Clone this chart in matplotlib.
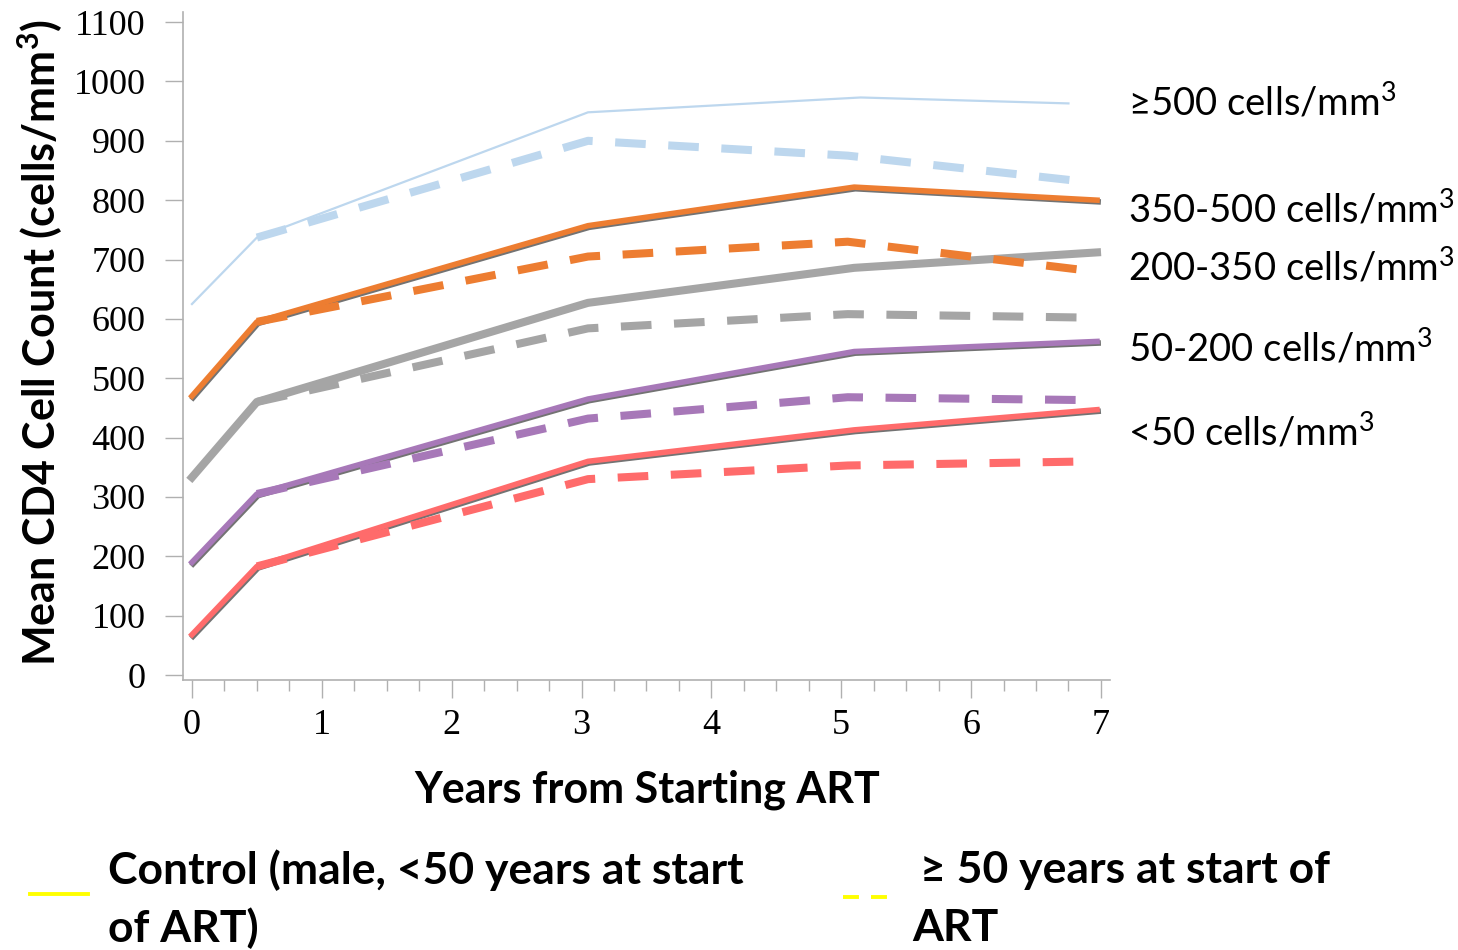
import numpy as np
import matplotlib
matplotlib.use("Agg")
import matplotlib.pyplot as plt
import matplotlib.patheffects as pe
from matplotlib.lines import Line2D

# Data
years = [0, 0.5, 3.05, 5.1, 6.97]
years_blue = [0, 0.5, 3.05, 5.15, 6.75]
years_old = [0.5, 3.05, 5.05, 6.95]
years_old_blue = [0.5, 3.05, 5.05, 6.8]

blue_ctrl = [625, 737, 948, 973, 963]
blue_old = [737, 900, 875, 833]
orange_ctrl = [470, 595, 757, 822, 800]
orange_old = [595, 705, 730, 680]
gray_ctrl = [333, 460, 627, 686, 712]
gray_old = [460, 584, 608, 602]
purple_ctrl = [190, 305, 465, 545, 562]
purple_old = [305, 432, 468, 463]
red_ctrl = [68, 183, 360, 413, 447]
red_old = [183, 330, 353, 360]

group_labels = ["≥500 cells/mm$^{3}$", "350-500 cells/mm$^{3}$", "200-350 cells/mm$^{3}$",
                "50-200 cells/mm$^{3}$", "<50 cells/mm$^{3}$"]
group_label_y = [963, 783, 685, 550, 407]

xticks = list(range(8))
yticks = list(range(0, 1200, 100))

BLUE = "#BDD7EE"
ORANGE = "#ED7D31"
GRAY = "#A5A5A5"
PURPLE = "#A778B8"
RED = "#FF6B6B"
SANS = ["Lato", "DejaVu Sans"]
SERIF = "Liberation Serif"

plt.rcParams["mathtext.fontset"] = "custom"
plt.rcParams["mathtext.rm"] = "Lato"
plt.rcParams["mathtext.bf"] = "Lato:bold"

fig = plt.figure(figsize=(14.58, 9.5), dpi=100)
fig.patch.set_facecolor("white")
ax = fig.add_axes([183 / 1458, 1 - 680 / 950, 927 / 1458, 668 / 950])

shadow = [pe.SimpleLineShadow(offset=(0.8, -1.2), shadow_color="black", alpha=0.55),
          pe.Normal()]
dash = (3.8, 2.8)

# control (solid) lines
ax.plot(years_blue, blue_ctrl, color=BLUE, lw=1.6)
ax.plot(years, orange_ctrl, color=ORANGE, lw=4.0, path_effects=shadow)
ax.plot(years, gray_ctrl, color=GRAY, lw=5.8)
ax.plot(years, purple_ctrl, color=PURPLE, lw=4.0, path_effects=shadow)
ax.plot(years, red_ctrl, color=RED, lw=4.0, path_effects=shadow)

# >= 50 years (dashed) lines
for xs, ys, c in [(years_old_blue, blue_old, BLUE), (years_old, orange_old, ORANGE),
                  (years_old, gray_old, GRAY), (years_old, purple_old, PURPLE),
                  (years_old, red_old, RED)]:
    ax.plot(xs, ys, color=c, lw=5.8, dashes=dash, solid_capstyle="butt",
            dash_capstyle="butt")

ax.set_xlim(-0.069, 7.07)
ax.set_ylim(-8.4, 1117)
ax.set_xticks(xticks)
ax.set_xticks(np.arange(0, 7.01, 0.25), minor=True)
ax.set_yticks(yticks)
ax.set_xticklabels([str(v) for v in xticks], fontfamily=SERIF, fontsize=26)
ax.set_yticklabels([str(v) for v in yticks], fontfamily=SERIF, fontsize=26)

for side in ["top", "right"]:
    ax.spines[side].set_visible(False)
for side in ["left", "bottom"]:
    ax.spines[side].set_color("#B0B0B0")
    ax.spines[side].set_linewidth(1.2)
ax.tick_params(axis="x", which="major", direction="out", length=13, width=1,
               color="#B0B0B0", pad=8)
ax.tick_params(axis="x", which="minor", direction="out", length=8, width=1,
               color="#B0B0B0")
ax.tick_params(axis="y", which="major", direction="out", length=13, width=1,
               color="#B0B0B0", pad=14)

# group labels on the right
for lab, yv in zip(group_labels, group_label_y):
    ax.text(7.21, yv, lab, fontsize=27.5, family=SANS, va="center", ha="left",
            clip_on=False)

# axis titles
fig.text(40 / 1458, 1 - 342 / 950, r"Mean CD4 Cell Count (cells/mm$^{\mathbf{3}}$)",
         rotation=90, fontsize=31, fontweight="bold", family=SANS,
         ha="center", va="center")
fig.text(647 / 1458, 1 - 790 / 950, "Years from Starting ART", fontsize=31,
         fontweight="bold", family=SANS, ha="center", va="center")

# legend
fig.add_artist(Line2D([30 / 1458, 88 / 1458], [1 - 894 / 950] * 2, color="#FFFF00",
                      lw=2.8))
fig.add_artist(Line2D([843 / 1458, 889 / 1458], [1 - 897 / 950] * 2, color="#FFFF00",
                      lw=2.8, dashes=(4.1, 3.1)))
legend_font = dict(fontsize=32, fontweight="bold", family=SANS, va="center", ha="left")
fig.text(108 / 1458, 1 - 870 / 950, "Control (male, <50 years at start", **legend_font)
fig.text(108 / 1458, 1 - 928 / 950, "of ART)", **legend_font)
fig.text(920 / 1458, 1 - 870 / 950, "≥ 50 years at start of", **legend_font)
fig.text(912 / 1458, 1 - 928 / 950, "ART", **legend_font)

fig.savefig("out.png", dpi=100, facecolor="white")
